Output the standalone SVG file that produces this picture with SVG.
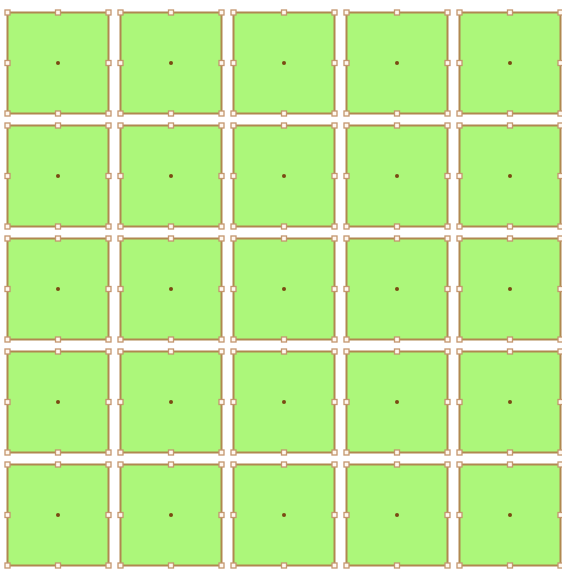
<svg xmlns="http://www.w3.org/2000/svg" width="562" height="574" viewBox="0 0 562 574">
<defs>
<style>
.sq{fill:#acf77a;stroke:#b08850;stroke-width:2}
.h{fill:#fff8f0;stroke:#c4966e;stroke-width:1.3}
.c{fill:#7a4a12}
</style>
<g id="cell">
<rect class="sq" x="-50.5" y="-50.5" width="101" height="101"/>
<rect class="h" x="-53" y="-53" width="5" height="5"/>
<rect class="h" x="-2.5" y="-53" width="5" height="5"/>
<rect class="h" x="48" y="-53" width="5" height="5"/>
<rect class="h" x="-53" y="-2.5" width="5" height="5"/>
<rect class="h" x="48" y="-2.5" width="5" height="5"/>
<rect class="h" x="-53" y="48" width="5" height="5"/>
<rect class="h" x="-2.5" y="48" width="5" height="5"/>
<rect class="h" x="48" y="48" width="5" height="5"/>
<circle class="c" r="2"/>
</g>
</defs>
<rect width="562" height="574" fill="#ffffff"/>
<g id="connectors"/>
<g id="r1">
<use id="n11" href="#cell" x="58" y="63"/><use id="n12" href="#cell" x="171" y="63"/><use id="n13" href="#cell" x="284" y="63"/><use id="n14" href="#cell" x="397" y="63"/><use id="n15" href="#cell" x="510" y="63"/>
</g>
<g id="r2">
<use id="n21" href="#cell" x="58" y="176"/><use id="n22" href="#cell" x="171" y="176"/><use id="n23" href="#cell" x="284" y="176"/><use id="n24" href="#cell" x="397" y="176"/><use id="n25" href="#cell" x="510" y="176"/>
</g>
<g id="r3">
<use id="n31" href="#cell" x="58" y="289"/><use id="n32" href="#cell" x="171" y="289"/><use id="n33" href="#cell" x="284" y="289"/><use id="n34" href="#cell" x="397" y="289"/><use id="n35" href="#cell" x="510" y="289"/>
</g>
<g id="r4">
<use id="n41" href="#cell" x="58" y="402"/><use id="n42" href="#cell" x="171" y="402"/><use id="n43" href="#cell" x="284" y="402"/><use id="n44" href="#cell" x="397" y="402"/><use id="n45" href="#cell" x="510" y="402"/>
</g>
<g id="r5">
<use id="n51" href="#cell" x="58" y="515"/><use id="n52" href="#cell" x="171" y="515"/><use id="n53" href="#cell" x="284" y="515"/><use id="n54" href="#cell" x="397" y="515"/><use id="n55" href="#cell" x="510" y="515"/>
</g>
</svg>
